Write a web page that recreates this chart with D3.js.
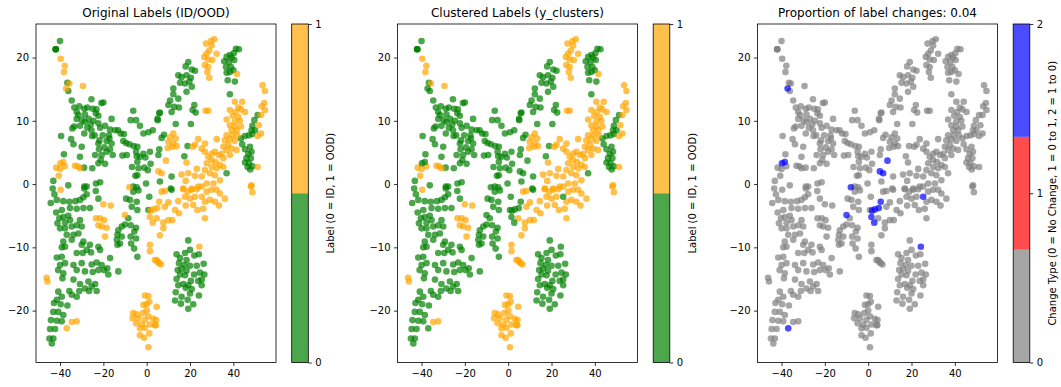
<!DOCTYPE html>
<html>
<head>
<meta charset="utf-8">
<script src="https://cdn.jsdelivr.net/npm/d3@7"></script>
<style>
  body { margin: 0; background: #fff; }
  text { font-family: "DejaVu Sans", sans-serif; fill: #000; }
</style>
</head>
<body>
<svg id="fig" width="1061" height="387"></svg>
<script>
// --- data (embedding coords) ---
// label 0 (ID) in both the original and the clustered labels
const idXY = [
  [-40,22.6],[-42,21.3],[-42,21.3],[-42,21.3],
  [-36.6,16],[-36.2,14.7],[-34.6,13.2],[-25.5,13.4],[-20.9,12.8],[-20,12.9],
  [-33.4,12.1],[-31.1,12.3],[-28.8,11.9],[-27.4,12.1],[-24.9,11.9],[-23.2,11.8],
  [-32.3,11.4],[-31.5,10.9],[-28.5,11],[-22.3,10.8],[-23.5,11.2],
  [-32.3,10.3],[-29.8,10.1],[-26.8,10.3],[-24.6,10],[-16.2,10.3],[-28.5,9.8],
  [-30.8,9.2],[-25.8,9.4],[-22.3,9.6],[-34.3,8.8],[-33.5,9.1],[-27.4,8.9],[-25.5,8.5],[-21.5,8.9],[-19.2,9.2],[-16.9,8.6],[-14.6,8.5],[-13.2,8.5],
  [-39.5,7.6],[-28.8,8],[-25.2,7.6],[-24,7.7],[-20.3,7.7],[-17.4,7.7],[-17.2,7.2],[-12,8],[-10.5,7.9],[-10.8,6.8],
  [-34.9,7.1],[-21.8,6.9],[-18.5,6.8],[-33.8,6.3],[-30,5.9],[-22.3,6.4],[-16.2,6.4],[-19.5,5.8],[-22,5.5],[-16.9,5.5],
  [-9.5,6.5],[-8,6.3],[-6,6],[-4.9,5.1],[-4.3,5.9],[1.5,5.1],[1.8,3.2],
  [-38.2,4.7],[-30.8,4.3],[-23.8,4.6],[-20.8,4.6],[-15.7,4.6],[-18.5,5.1],[-11.2,4.5],[-9.2,4.6],[-4.6,4.4],[-3.1,4.3],[-1.5,4.8],[-0.6,4.2],[5.4,4.6],[5.8,5.5],
  [-28.9,2.6],[-25.1,2.5],[-22.3,3.3],[-19.2,3.2],[-21.2,3.8],[-4.3,3.5],[-6.8,2.7],[-3.8,2.5],[-1.1,2.6],[0.5,2.2],
  [-5.2,1.3],[-4.3,1.4],[-0.3,0.1],[-43.1,0.5],[-36.2,-0.2],[-28.8,-0.4],[-27.7,-0.4],[-23.4,0.1],[-21.5,0.3],[-6.2,-0.4],[-4.6,-0.5],
  [5.1,10.1],[5.8,11.2],[-6.2,11.6],[-7.4,10.1],[-4.9,10.1],[-3.1,9.2],[0.8,8.2],[2.8,8.5],[-1.5,8],
  [41.2,21.4],[42.6,21.3],[40.3,20.7],[38.4,20.4],[36.9,20.1],[39.2,20],[35.8,19.4],[38,19.3],[40.4,19.6],[36.6,18.5],[38.9,18.5],[36.9,17.6],[38.4,17.7],[40,18],[37.4,16.4],[40.7,16.2],
  [19.2,19.3],[18,18.6],[20.8,18.1],[22.3,17.9],[14.6,17.2],[16.1,16.9],[18.4,17.2],[20.4,16.8],[15.4,16],[17.7,15.9],[19.7,16.2],[20.8,15.4],[12.3,15.1],[18.4,14.6],[12.3,14.2],[14.6,13.5],[10.8,13.2],[10,12.5],[12.7,12.2],[14.9,12.1],[11.5,11.4],[22,12.5],[21.2,11.7],[22.6,11.3],[6.1,11.3],[5,10.3],[13.4,9.5],[20.4,9.5],[8,7.8],[6.9,7.3],[18.9,6],[17.4,4.4],[11.5,1.2],[6.1,0.4],[36.9,1.7],[11.1,-0.7],[38.4,14.2],
  [51.2,10.9],[49.7,10.1],[48.8,9.2],[48.4,8.5],[50,8.5],[47.2,7.7],[48.8,7.9],[43.5,7.2],[45.4,7.6],[44.1,6.3],[45.4,5.5],[47.7,5.9],[46.9,4.8],[48.4,5.1],[46.1,4.1],[48.1,4.1],[45.4,3.4],[47.2,3.3],[46.6,2.7],[48.8,2.8],[47.8,2.3],
  [-43.4,-0.7],[-42.6,-1.6],[-44.3,-3],[-41.5,-2.5],[-38.5,-2.7],[-39.2,-4.1],[-41.8,-4.5],[-35.7,-2.8],[-32.9,-2.7],[-30.8,-2.5],[-29.2,-2.1],[-27.7,-1.6],[-28.8,-0.7],[-35.4,-3.8],[-32.3,-3.9],[-29.2,-3.8],[-26.2,-3.8],[-23.5,-1.1],[-22.3,-2.3],
  [-40.3,-5.4],[-38.5,-5.2],[-36.2,-5],[-37.7,-6.1],[-35.4,-5.7],[-41.2,-6.2],[-40,-7],[-37.7,-7],[-34.6,-6.7],[-32.3,-6.5],[-30.8,-5.7],[-30,-6.7],[-36.9,-8],[-33.8,-8],[-31.5,-7.8],[-34.6,-8.8],[-29.2,-9.1],[-38.5,-9.1],[-37.7,-9.9],[-39.2,-10],[-30,-9.6],[-26.2,-9.6],[-27.7,-10.4],[-32.3,-10.9],[-29.5,-10.9],[-25.7,-10.8],[-21.5,-10.4],[-22.3,-9.9],
  [-11.5,-6.7],[-13.1,-7.3],[-13.5,-8],[-13.8,-8.8],[-11.5,-8.3],[-12.3,-9.4],[-13.5,-9.6],[-8.5,-5.4],[-10,-6.4],[-7.4,-6.5],[-4.9,-6.9],[-5.7,-7.5],[-7.4,-8.3],[-4.9,-8.6],[-7.2,-9.4],[-5.8,-10.2],[-4.3,-11.5],
  [-9.5,-2.3],[-7.7,-2.5],[-6.2,-1.2],[-3.8,-1],[-4.6,-2.8],[-6.9,-3.6],[-4.3,-4.1],[1.2,-2],[0.8,-4.1],
  [-41.5,-11.6],[-39.2,-11.5],[-37.7,-12.5],[-40,-12.8],[-40.9,-13.6],[-38.5,-14.1],[-38.9,-14.9],[-33.8,-12.8],[-32.3,-13.6],[-30,-12.5],[-28.5,-13.8],[-25.4,-12.7],[-23.1,-12.4],[-20.8,-12.8],[-22.3,-13.6],[-19.7,-13.6],[-16.9,-11.7],[-18.2,-13.3],[-13.1,-13.8],[-17.7,-14.3],[-24.9,-13.9],
  [-33.8,-15.1],[-30.8,-15.8],[-26.9,-15.4],[-25.4,-16.2],[-23.8,-15.8],[-23.1,-16.9],[-26.6,-16.9],[-28.5,-16.5],[-31.1,-16.9],[-35.7,-16.9],[-34.6,-17.5],[-32.3,-17.8],[-40.8,-17],[-41.5,-18.3],[-39.2,-17.8],[-42.8,-18.8],[-39.7,-19],[-36.6,-19.2],[-43.1,-20.2],[-40.8,-20.2],[-38.5,-20.7],[-44.2,-21.5],[-41.5,-21.6],[-39.2,-21.7],[-44.6,-22.9],[-42.3,-22.9],[-44.9,-24.4],[-43.1,-24.4],[-43.8,-25.2],
  [11.5,-0.9],[19.2,-8.9],[13.8,-11.1],[17.7,-10.9],[20,-10.4],[22,-11.3],[24.1,-11.1],[15.4,-11.7],[18.4,-12],[14.9,-12.5],[17.4,-12.8],[20,-12.9],[23.1,-12.9],[26.3,-12.6],[14.3,-13.6],[16.1,-13.4],[18.4,-13.7],[21.9,-14.3],[24.6,-14],[26.6,-14.3],[15.4,-14.3],[17.7,-14.4],[25.4,-15.1],[23.8,-15.3],[20.4,-15.3],[13.8,-15],[14.6,-16],[16.9,-15.8],[19.2,-16],[18,-16.4],[25.4,-16],[20.8,-16.6],[13.4,-17.1],[16.1,-17.8],[20,-17.3],[24.1,-17.6],[13.1,-18.4],[15.8,-18.9],[18.9,-18.3],[21.5,-19],[19.2,-19.7]
];

// label 1 (OOD) in both
const oodXY = [
  [-39.7,19.8],[-37.8,18.7],[-38.2,17.7],[-35.7,15.9],[-29.4,15.5],[-41.8,2.6],[-40,2.4],[-37.8,2.8],[-33.1,2.9],[-31.8,2.8],[-30.8,2.5],[-40.6,1.3],
  [31.2,22.9],[29.7,22.6],[27.4,22.2],[30,21.9],[32.3,20.6],[27.7,20.6],[28.9,21.1],[26.6,20.1],[28.4,19.7],[30.3,19.6],[26.9,18.8],[28.4,18.5],[28,17.7],[28.9,16.8],[41.7,17.4],
  [12.3,8],[10.8,7.4],[13.4,7.2],[10,6.7],[12.3,6.4],[9.7,5.7],[11.8,5.9],[13.8,6],[23.8,7.1],[22.3,6.2],[32.3,7.1],[26.9,6.4],[21.2,5.9],[25.4,5.6],[18.4,3.4],[23.1,2.4],[19.2,1.7],[16.1,1.5],[18,0.5],[22.3,1.3],
  [26.9,5.1],[30,4.8],[28.4,4.3],[31.5,5.1],[33.1,4.6],[35.4,4.1],[30,3.8],[31.8,3.5],[33.8,3],[27.7,3.3],[30,2.7],[32.3,2.5],[26.9,2.2],[29.2,1.7],[31.5,1.4],[35.4,2.7],[33.8,0.6],[30.8,0.1],[27.7,0.1],[25.4,1.2],[16.9,-0.7],[20.8,-0.7],[23.8,-0.4],[27.2,11.6],[28.4,11.6],
  [36.9,10.2],[38.4,11.7],[40.7,13],[44.1,13],[42.3,12.1],[41,11.4],[43.5,11.8],[45.4,11.4],[39.7,10.8],[42.3,10.6],[40.7,9.9],[43,10],[38.4,9.3],[40.7,9.1],[43.5,9.1],[39.2,8.5],[41.5,8.5],[36.9,7.7],[39.5,7.7],[41.9,7.7],[38.4,7.1],[36.1,6.9],[40.7,6.8],[37.7,6.2],[35.4,5.9],[39.2,5.6],[36.9,5.4],[41.5,5.4],[34.6,4.8],[38.4,4.6],
  [53.5,15.6],[54.6,14.7],[54.3,12.8],[53.1,12.3],[54.6,11.7],[52.8,10.9],[51.8,9.3],[52.8,8],[51.2,7.6],[51.2,2.7],[48.4,-0.2],
  [-39.7,-0.9],[-20,-3.2],[-16.6,-3.4],[-23.4,-5.4],[-21.5,-5.4],[-19.7,-5.7],[-22.3,-6.5],[-20.8,-6.7],[-18.5,-6.9],[-19.2,-8.3],
  [1.5,-9.6],[1.5,-10.6],[4.6,-12],[5.8,-12.5],[-46.2,-14.8],[-45.8,-15.4],[-34.6,-21.8],[-32.3,-21.7],
  [-0.8,-17.6],[0.8,-17.7],[-1.5,-19.1],[0,-19],[1.2,-18.6],[-6.2,-20.4],[-4.6,-20.6],[-6.5,-21.2],[-3.8,-21.2],[-1.8,-20.4],[0,-20],[0.8,-20.9],[3.1,-21.3],[-0.8,-21.5],[-4.9,-22],[-2.3,-22.2],[1.5,-22.2],[4.3,-21.5],[3.8,-22.3],[-3.1,-22.8],[-0.8,-22.7],[-3.1,-23.9],[-1.2,-24.3],[1.2,-23.6],[0.8,-25.8],[4.6,-19.4],[4.2,-22.3],
  [6.9,-1.2],[8.4,-1.1],[16.9,-0.8],[18.9,-1.2],[20.7,-0.9],[23.1,-0.8],[25.4,-0.4],[27.7,-1.2],[30,-0.9],[32.3,-0.9],[33.8,-1.5],[36.1,-2.3],[17.7,-2],[20,-2.3],[22.3,-2],[26.9,-2.8],[29.2,-2.5],[31.5,-2.8],[33.4,-3.4],[14.6,-2.7],[10,-2.9],[8.4,-3.6],[18,-3.4],[21.5,-3.3],[23.4,-4.1],[26.1,-3.9],[13.1,-4.1],[14.9,-4.6],[26.9,-5.4],[4.6,-5.4],[10,-5.7],[11.8,-5.7],[7.7,-6.1],[7.7,-7],[6.1,-8.1],[48.1,-0.4],[48.8,-1.3],[5.1,-12.3],[6.6,-12.7],[3.8,-12]
];

// label 1 originally, 0 after clustering (the blue points)
const flipXY = [
  [-37.2,15.1],[-39.8,3.3],[-38.5,3.5],[8.9,3.7],[5.4,2.0],[6.9,1.7],[-8,-0.5],[5.8,-2.8],
  [4.9,-3.8],[3.1,-4.0],[1.8,-4.2],[1.5,-5.2],[2.8,-6.1],[-10,-4.9],[25.4,-2.0],[24.3,-9.9],[-36.9,-22.8]
];

const titles = ["Original Labels (ID/OOD)", "Clustered Labels (y_clusters)", "Proportion of label changes: 0.04"];
const labelNames = ["Label (0 = ID, 1 = OOD)", "Label (0 = ID, 1 = OOD)", "Change Type (0 = No Change, 1 = 0 to 1, 2 = 1 to 0)"];
const labelColors = ["green", "orange"];
const changeColors = ["gray", "red", "blue"];
const xTicks = [-40, -20, 0, 20, 40];
const yTicks = [-20, -10, 0, 10, 20];

// --- layout ---
const panelLeft = [36, 397.5, 757.5];
const plotTop = 24, W = 240, H = 338.5;
const cbGap = 255.7, cbW = 16.6;

const points = [].concat(
  idXY.map(p => ({ x: p[0], y: p[1], orig: 0, clus: 0 })),
  oodXY.map(p => ({ x: p[0], y: p[1], orig: 1, clus: 1 })),
  flipXY.map(p => ({ x: p[0], y: p[1], orig: 1, clus: 0 }))
);
points.forEach(d => { d.change = d.orig === d.clus ? 0 : (d.orig === 0 ? 1 : 2); });

const x = d3.scaleLinear().domain([-51.1, 59.7]).range([0, W]);
const y = d3.scaleLinear().domain([-28.2, 25.3]).range([H, 0]);
const fmt = d => d < 0 ? "\u2212" + Math.abs(d) : String(d);

const svg = d3.select("#fig");

const panels = [
  { color: d => labelColors[d.orig], cb: labelColors },
  { color: d => labelColors[d.clus], cb: labelColors },
  { color: d => changeColors[d.change], cb: changeColors }
];

panels.forEach((p, i) => {
  const g = svg.append("g").attr("transform", `translate(${panelLeft[i]},${plotTop})`);

  // points (changed ones drawn last)
  const data = i === 2 ? points.slice().sort((a, b) => a.change - b.change) : points;
  g.append("g").selectAll("circle")
    .data(data)
    .enter().append("circle")
    .attr("cx", d => x(d.x))
    .attr("cy", d => y(d.y))
    .attr("r", 3.3)
    .attr("fill", p.color)
    .attr("fill-opacity", 0.7);

  // axes
  const xa = g.append("g").attr("transform", `translate(0,${H})`)
    .call(d3.axisBottom(x).tickValues(xTicks).tickSize(3.5).tickPadding(3.5).tickFormat(fmt));
  const ya = g.append("g")
    .call(d3.axisLeft(y).tickValues(yTicks).tickSize(3.5).tickPadding(3.5).tickFormat(fmt));
  [xa, ya].forEach(a => {
    a.select(".domain").remove();
    a.selectAll("line").attr("stroke", "#000").attr("stroke-width", 0.8);
    a.selectAll("text").attr("font-size", 10).attr("font-family", "DejaVu Sans");
  });

  g.append("rect").attr("width", W).attr("height", H)
    .attr("fill", "none").attr("stroke", "#000").attr("stroke-width", 0.8);

  g.append("text").attr("x", W / 2).attr("y", -7)
    .attr("text-anchor", "middle").attr("font-size", 12).text(titles[i]);

  // colorbar
  const n = p.cb.length;
  const cb = g.append("g").attr("transform", `translate(${cbGap},0)`);
  const cy = d3.scaleLinear().domain([0, n - 1]).range([H, 0]);
  cb.selectAll("rect.seg")
    .data(p.cb)
    .enter().append("rect")
    .attr("class", "seg")
    .attr("x", 0)
    .attr("y", (c, k) => H - (k + 1) * H / n)
    .attr("width", cbW)
    .attr("height", H / n)
    .attr("fill", c => c)
    .attr("fill-opacity", 0.7);
  cb.append("rect").attr("width", cbW).attr("height", H)
    .attr("fill", "none").attr("stroke", "#000").attr("stroke-width", 0.8);
  const ca = cb.append("g").attr("transform", `translate(${cbW},0)`)
    .call(d3.axisRight(cy).tickValues(d3.range(n)).tickSize(3.5).tickPadding(3.5).tickFormat(d3.format("d")));
  ca.select(".domain").remove();
  ca.selectAll("line").attr("stroke", "#000").attr("stroke-width", 0.8);
  ca.selectAll("text").attr("font-size", 10).attr("font-family", "DejaVu Sans");

  cb.append("text")
    .attr("transform", `translate(${cbW + 22.5},${H / 2}) rotate(-90)`)
    .attr("text-anchor", "middle").attr("dy", "0.35em")
    .attr("font-size", 10).text(labelNames[i]);
});
</script>
</body>
</html>
